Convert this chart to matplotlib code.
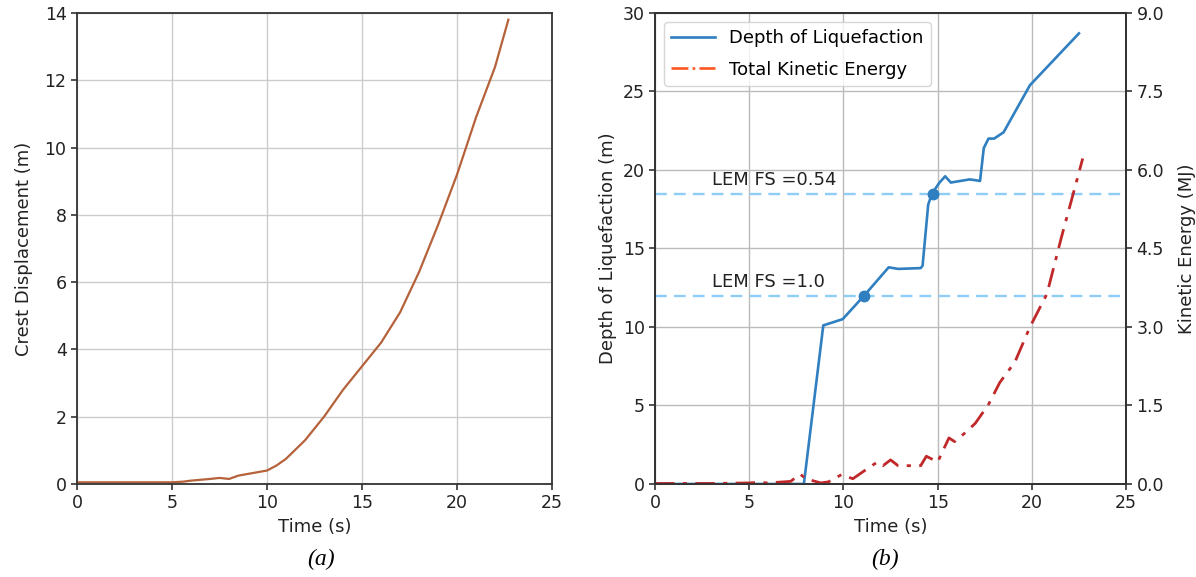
import matplotlib
matplotlib.use("Agg")
import matplotlib.pyplot as plt
from matplotlib.lines import Line2D

# (a) crest displacement
t_crest = [0, 5, 5.6, 6, 7, 7.5, 8, 8.5, 9, 10, 10.5, 11, 12, 13, 14, 15, 16, 17, 18, 19, 20, 21, 22, 22.7]
crest = [0.05, 0.05, 0.07, 0.1, 0.15, 0.18, 0.15, 0.25, 0.3, 0.4, 0.55, 0.75, 1.3, 2.0, 2.8, 3.5, 4.2, 5.1, 6.3, 7.7, 9.2, 10.9, 12.4, 13.8]

# (b) depth of liquefaction
t_depth = [0, 7.9, 8.93, 9.96, 11.1, 12.4, 12.9, 14.1, 14.2, 14.5, 14.7, 15.1, 15.4, 15.7, 16.7, 17.0, 17.25,
           17.45, 17.7, 18.0, 18.5, 19.9, 22.5]
depth = [0, 0, 10.1, 10.5, 12.0, 13.8, 13.7, 13.75, 13.9, 17.8, 18.5, 19.2, 19.6, 19.2, 19.4, 19.35, 19.3,
         21.4, 22.0, 22.0, 22.4, 25.4, 28.7]

# kinetic energy (MJ)
t_ke = [0, 3, 5, 5.5, 6, 7.2, 7.7, 8.0, 8.8, 9.2, 9.9, 10.5, 11.1, 11.8, 12.1, 12.5, 12.9, 14.1, 14.4, 15.0,
        15.6, 15.9, 16.5, 17.0, 17.7, 18.3, 19.1, 19.9, 20.8, 21.56, 22.2, 22.7]
ke = [0.01, 0.01, 0.02, 0.03, 0.02, 0.05, 0.19, 0.1, 0.02, 0.04, 0.18, 0.1, 0.25, 0.42, 0.35, 0.46, 0.35, 0.35,
      0.53, 0.42, 0.88, 0.81, 0.99, 1.16, 1.52, 1.94, 2.33, 3.0, 3.63, 4.7, 5.55, 6.22]

markers_t = [11.1, 14.75]
markers_d = [12.0, 18.5]
lem_levels = [12.0, 18.5]
lem_labels = ["LEM FS =1.0", "LEM FS =0.54"]

fig = plt.figure(figsize=(11.96, 5.77), dpi=100)
fs = 13
tfs = 12.5
spine_c = "#333333"

def style(ax):
    for s in ax.spines.values():
        s.set_color(spine_c)
        s.set_linewidth(1.3)
    ax.tick_params(labelsize=tfs, colors="#222222", width=1.1, length=4)

ax1 = fig.add_axes([0.0644, 0.1612, 0.3972, 0.8163])
ax1.plot(t_crest, crest, color="#b5623b", lw=1.6)
ax1.set_xlim(0, 25)
ax1.set_ylim(0, 14)
ax1.set_xticks([0, 5, 10, 15, 20, 25])
ax1.set_yticks(range(0, 15, 2))
ax1.grid(True, color="#cccccc", lw=1)
ax1.set_xlabel("Time (s)", fontsize=fs, color="#222222")
ax1.set_ylabel("Crest Displacement (m)", fontsize=fs, color="#222222", labelpad=8)
style(ax1)

ax2 = fig.add_axes([0.5477, 0.1612, 0.3938, 0.8163])
ax2.plot(t_depth, depth, color="#2f7fc1", lw=1.9, zorder=3)
ax2.plot(markers_t, markers_d, "o", color="#2f7fc1", ms=7.5, zorder=4)
for lvl, lab in zip(lem_levels, lem_labels):
    ax2.axhline(lvl, color="#8ecdf5", ls=(0, (5, 3)), lw=1.7, zorder=2)
    ax2.text(3.0, lvl + 0.3, lab, fontsize=fs, va="bottom", ha="left", color="#222222")
ax2.set_xlim(0, 25)
ax2.set_ylim(0, 30)
ax2.set_xticks([0, 5, 10, 15, 20, 25])
ax2.set_yticks(range(0, 31, 5))
ax2.grid(True, color="#bbbbbb", lw=1)
ax2.set_xlabel("Time (s)", fontsize=fs, color="#222222")
ax2.set_ylabel("Depth of Liquefaction (m)", fontsize=fs, color="#222222")
style(ax2)

ax3 = ax2.twinx()
ax3.plot(t_ke, ke, color="#c0282a", lw=2.0, ls=(0, (7, 3, 1.5, 3)))
ax3.set_ylim(0, 9)
ax3.set_yticks([0, 1.5, 3.0, 4.5, 6.0, 7.5, 9.0])
ax3.set_yticklabels(["0.0", "1.5", "3.0", "4.5", "6.0", "7.5", "9.0"])
ax3.set_ylabel("Kinetic Energy (MJ)", fontsize=fs, color="#222222", labelpad=10)
style(ax3)

handles = [Line2D([], [], color="#2f7fc1", lw=1.9),
           Line2D([], [], color="#ff5722", lw=1.9, ls="-.")]
ax2.legend(handles, ["Depth of Liquefaction", "Total Kinetic Energy"], loc="upper left",
           fontsize=fs, handlelength=2.4, labelspacing=0.75)

fig.text(0.268, 0.03, "(a)", fontsize=17, family="Liberation Serif", style="italic", ha="center", va="center")
fig.text(0.74, 0.03, "(b)", fontsize=17, family="Liberation Serif", style="italic", ha="center", va="center")

fig.savefig("out.png", dpi=100)
